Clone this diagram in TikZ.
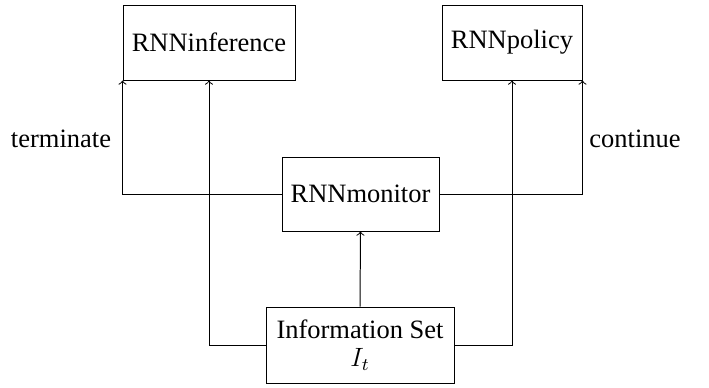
\documentclass[tikz,border=0pt]{standalone}
\usepackage{fontspec}
\setmainfont{Liberation Serif}
\begin{document}
\begin{tikzpicture}[x=0.453pt,y=-0.453pt,
  box/.style={draw,rectangle,inner sep=0pt,line width=0.45pt,font=\fontsize{12}{14}\selectfont},
  lbl/.style={inner sep=0pt,font=\fontsize{12}{14}\selectfont},
  conn/.style={->,line width=0.45pt}]
\useasboundingbox (0,0) rectangle (709,387);
\node[box,minimum width=172*0.453pt,minimum height=75*0.453pt] (inf) at (209,42.5) {RNNinference};
\node[box,minimum width=140*0.453pt,minimum height=75*0.453pt] (pol) at (512,42.5) {RNNpolicy};
\node[box,minimum width=157*0.453pt,minimum height=74*0.453pt] (mon) at (360.5,194) {RNNmonitor};
\node[box,align=center,minimum width=188*0.453pt,minimum height=76*0.453pt] (info) at (360,345) {Information Set\\[-1pt]$I_t$};
\node[lbl] (term) at (61,139) {terminate};
\node[lbl] (cont) at (635,139) {continue};
\draw[conn] (mon.west) -| (inf.south west);
\draw[conn] (mon.east) -| (pol.south east);
\draw[conn] (info.west) -| (inf.south);
\draw[conn] (info.east) -| (pol.south);
\draw[conn] (info.north) -- (mon.south);
\end{tikzpicture}
\end{document}
